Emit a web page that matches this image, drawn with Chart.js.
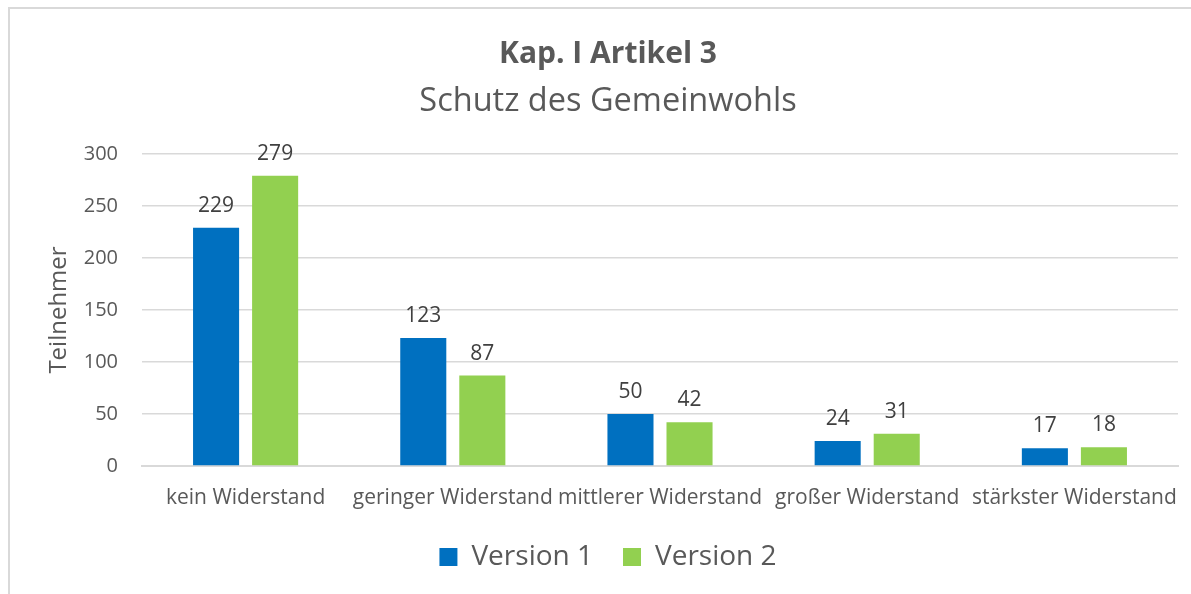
<!DOCTYPE html>
<html lang="de">
<head>
<meta charset="utf-8">
<title>Kap. I Artikel 3</title>
<script src="https://cdn.jsdelivr.net/npm/chart.js@4.4.1/dist/chart.umd.min.js"></script>
<style>
  html, body { margin: 0; padding: 0; background: #ffffff; overflow: hidden; }
  #frame {
    position: absolute; left: 8px; top: 7px; width: 1300px; height: 700px;
    border-left: 2px solid #d9d9d9; border-top: 2px solid #d9d9d9;
  }
  #wrap { position: absolute; left: 0; top: 0; width: 1191px; height: 594px; }
</style>
</head>
<body>
<div id="frame"></div>
<div id="wrap"><canvas id="chart" width="1191" height="594"></canvas></div>
<script>
// Categories and values
const categories = [
  'kein Widerstand',
  'geringer Widerstand',
  'mittlerer Widerstand',
  'großer Widerstand',
  'stärkster Widerstand'
];
const version1 = [229, 123, 50, 24, 17];
const version2 = [279, 87, 42, 31, 18];
const yTicks = [0, 50, 100, 150, 200, 250, 300];

const FONT = "'Open Sans', 'DejaVu Sans', sans-serif";
const TEXT = '#595959';
const GRID = '#d9d9d9';

// Writes each bar's value just above it
const valueLabels = {
  id: 'valueLabels',
  afterDatasetsDraw(chart) {
    const ctx = chart.ctx;
    ctx.save();
    ctx.font = '21px ' + FONT;
    ctx.fillStyle = '#404040';
    ctx.textAlign = 'center';
    ctx.textBaseline = 'alphabetic';
    chart.data.datasets.forEach((ds, i) => {
      const meta = chart.getDatasetMeta(i);
      meta.data.forEach((bar, j) => {
        ctx.fillText(String(ds.data[j]), bar.x, bar.y - 16);
      });
    });
    ctx.restore();
  }
};

new Chart(document.getElementById('chart'), {
  type: 'bar',
  data: {
    labels: categories,
    datasets: [
      { label: 'Version 1', data: version1, backgroundColor: '#0070c0',
        categoryPercentage: 0.57, barPercentage: 0.78 },
      { label: 'Version 2', data: version2, backgroundColor: '#92d050',
        categoryPercentage: 0.57, barPercentage: 0.78 }
    ]
  },
  options: {
    responsive: false,
    animation: false,
    devicePixelRatio: 1,
    layout: { padding: { top: 4, right: 13, bottom: 13, left: 38 } },
    plugins: {
      title: {
        display: true,
        text: 'Kap. I Artikel 3',
        color: TEXT,
        font: { family: FONT, size: 30, weight: 'bold', lineHeight: 1.2 },
        padding: { top: 32, bottom: 4 }
      },
      subtitle: {
        display: true,
        text: 'Schutz des Gemeinwohls',
        color: TEXT,
        font: { family: FONT, size: 32.5, weight: 'normal', lineHeight: 1.2 },
        padding: { top: 6, bottom: 33 }
      },
      legend: {
        position: 'bottom',
        labels: {
          color: TEXT,
          font: { family: FONT, size: 28 },
          boxWidth: 18,
          boxHeight: 18,
          padding: 30
        }
      },
      tooltip: { enabled: false }
    },
    scales: {
      x: {
        grid: { display: false, drawTicks: false },
        border: { display: true, color: GRID, width: 2 },
        ticks: {
          color: TEXT,
          font: { family: FONT, size: 21 },
          padding: 19,
          autoSkip: false,
          maxRotation: 0,
          minRotation: 0
        },
        afterFit(scale) {
          scale.height = 47;
          scale.paddingLeft = 0;
          scale.paddingRight = 0;
        }
      },
      y: {
        min: 0,
        max: 300,
        afterBuildTicks(scale) { scale.ticks = yTicks.map(v => ({ value: v })); },
        grid: { color: GRID, lineWidth: 1.5, drawTicks: false },
        border: { display: false },
        ticks: {
          color: TEXT,
          font: { family: FONT, size: 20 },
          padding: 24
        },
        title: {
          display: true,
          text: 'Teilnehmer',
          color: TEXT,
          font: { family: FONT, size: 24 },
          padding: { top: 7, bottom: 0 }
        },
        afterFit(scale) { scale.width = 104; }
      }
    }
  },
  plugins: [valueLabels]
});
</script>
</body>
</html>
